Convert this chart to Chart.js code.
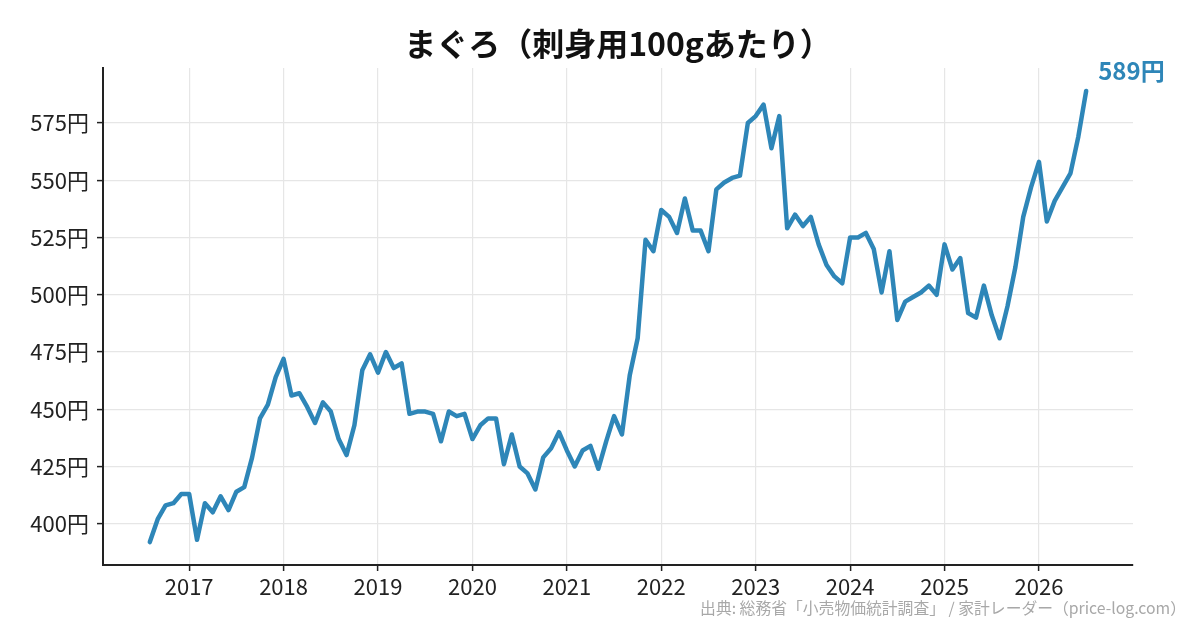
<!DOCTYPE html>
<html>
<head>
<meta charset="utf-8">
<script src="https://cdn.jsdelivr.net/npm/chart.js@4.4.0/dist/chart.umd.min.js"></script>
<style>
  html, body { margin: 0; padding: 0; background: #fff; }
  #wrap { width: 1200px; height: 630px; }
</style>
</head>
<body>
<div id="wrap"><canvas id="c" width="1200" height="630"></canvas></div>
<script>
const TITLE = "まぐろ（刺身用100gあたり）";
const SOURCE = "出典: 総務省「小売物価統計調査」 / 家計レーダー（price-log.com）";
const YEAR_TICKS = [2017, 2018, 2019, 2020, 2021, 2022, 2023, 2024, 2025, 2026];
const PRICE_TICKS = [400, 425, 450, 475, 500, 525, 550, 575];

const months = [
  "2016-08","2016-09","2016-10","2016-11","2016-12",
  "2017-01","2017-02","2017-03","2017-04","2017-05","2017-06","2017-07","2017-08","2017-09","2017-10","2017-11","2017-12",
  "2018-01","2018-02","2018-03","2018-04","2018-05","2018-06","2018-07","2018-08","2018-09","2018-10","2018-11","2018-12",
  "2019-01","2019-02","2019-03","2019-04","2019-05","2019-06","2019-07","2019-08","2019-09","2019-10","2019-11","2019-12",
  "2020-01","2020-02","2020-03","2020-04","2020-05","2020-06","2020-07","2020-08","2020-09","2020-10","2020-11","2020-12",
  "2021-01","2021-02","2021-03","2021-04","2021-05","2021-06","2021-07","2021-08","2021-09","2021-10","2021-11","2021-12",
  "2022-01","2022-02","2022-03","2022-04","2022-05","2022-06","2022-07","2022-08","2022-09","2022-10","2022-11","2022-12",
  "2023-01","2023-02","2023-03","2023-04","2023-05","2023-06","2023-07","2023-08","2023-09","2023-10","2023-11","2023-12",
  "2024-01","2024-02","2024-03","2024-04","2024-05","2024-06","2024-07","2024-08","2024-09","2024-10","2024-11","2024-12",
  "2025-01","2025-02","2025-03","2025-04","2025-05","2025-06","2025-07","2025-08","2025-09","2025-10","2025-11","2025-12",
  "2026-01","2026-02","2026-03","2026-04","2026-05","2026-06","2026-07"
];

const prices = [
  392, 402, 408, 409, 413,
  413, 393, 409, 405, 412, 406, 414, 416, 429, 446, 452, 464,
  472, 456, 457, 451, 444, 453, 449, 437, 430, 443, 467, 474,
  466, 475, 468, 470, 448, 449, 449, 448, 436, 449, 447, 448,
  437, 443, 446, 446, 426, 439, 425, 422, 415, 429, 433, 440,
  432, 425, 432, 434, 424, 436, 447, 439, 465, 481, 524, 519,
  537, 534, 527, 542, 528, 528, 519, 546, 549, 551, 552, 575,
  578, 583, 564, 578, 529, 535, 530, 534, 522, 513, 508, 505,
  525, 525, 527, 520, 501, 519, 489, 497, 499, 501, 504, 500,
  522, 511, 516, 492, 490, 504, 491, 481, 495, 512, 534, 547,
  558, 532, 541, 547, 553, 569, 589
];

const LINE_COLOR = "#2E86B8";
const FONT = "'Noto Sans CJK JP', 'Noto Sans', sans-serif";

const points = months.map((m, i) => {
  const [y, mo] = m.split("-").map(Number);
  return { x: y + (mo - 1) / 12, y: prices[i] };
});

const xFirst = points[0].x, xLast = points[points.length - 1].x;
const xPad = (xLast - xFirst) * 0.05;

const textPlugin = {
  id: "texts",
  afterDraw(chart) {
    const ctx = chart.ctx;
    const area = chart.chartArea;
    ctx.save();
    ctx.fillStyle = "#111";
    ctx.font = "bold 32px " + FONT;
    ctx.textAlign = "center";
    ctx.textBaseline = "middle";
    ctx.fillText(TITLE, (area.left + area.right) / 2, 44);
    const meta = chart.getDatasetMeta(0);
    const last = meta.data[meta.data.length - 1];
    ctx.fillStyle = LINE_COLOR;
    ctx.font = "bold 24px " + FONT;
    ctx.textAlign = "left";
    ctx.fillText(prices[prices.length - 1] + "円", last.x + 12, last.y - 20);
    ctx.fillStyle = "#a8a8a8";
    ctx.font = "15.8px " + FONT;
    ctx.textAlign = "right";
    ctx.fillText(SOURCE, 1186, 608);
    ctx.restore();
  }
};

new Chart(document.getElementById("c"), {
  type: "line",
  data: {
    datasets: [{
      data: points,
      borderColor: LINE_COLOR,
      borderWidth: 4.5,
      pointRadius: 0,
      pointHoverRadius: 0,
      tension: 0,
      fill: false,
      borderJoinStyle: "round",
      borderCapStyle: "round"
    }]
  },
  options: {
    responsive: false,
    animation: false,
    devicePixelRatio: 1,
    layout: { padding: { top: 68, right: 67, bottom: 0, left: 0 } },
    plugins: { legend: { display: false }, tooltip: { enabled: false }, title: { display: false } },
    scales: {
      x: {
        type: "linear",
        min: xFirst - xPad,
        max: xLast + xPad,
        afterBuildTicks(scale) { scale.ticks = YEAR_TICKS.map(v => ({ value: v })); },
        afterFit(scale) { scale.height = 65; },
        ticks: {
          color: "#222",
          font: { family: FONT, size: 22 },
          padding: 2,
          maxRotation: 0,
          autoSkip: false,
          callback: v => String(v)
        },
        grid: { color: "#e6e6e6", lineWidth: 1.2, drawTicks: true, tickLength: 6, tickColor: "#222", tickWidth: 1.5 },
        border: { display: true, color: "#222", width: 2 }
      },
      y: {
        type: "linear",
        min: 382,
        max: 599,
        afterBuildTicks(scale) { scale.ticks = PRICE_TICKS.map(v => ({ value: v })); },
        afterFit(scale) { scale.width = 103; },
        ticks: {
          color: "#222",
          font: { family: FONT, size: 22 },
          padding: 8,
          autoSkip: false,
          callback: v => v + "円"
        },
        grid: { color: "#e6e6e6", lineWidth: 1.2, drawTicks: true, tickLength: 6, tickColor: "#222", tickWidth: 1.5 },
        border: { display: true, color: "#222", width: 2 }
      }
    }
  },
  plugins: [textPlugin]
});
</script>
</body>
</html>
